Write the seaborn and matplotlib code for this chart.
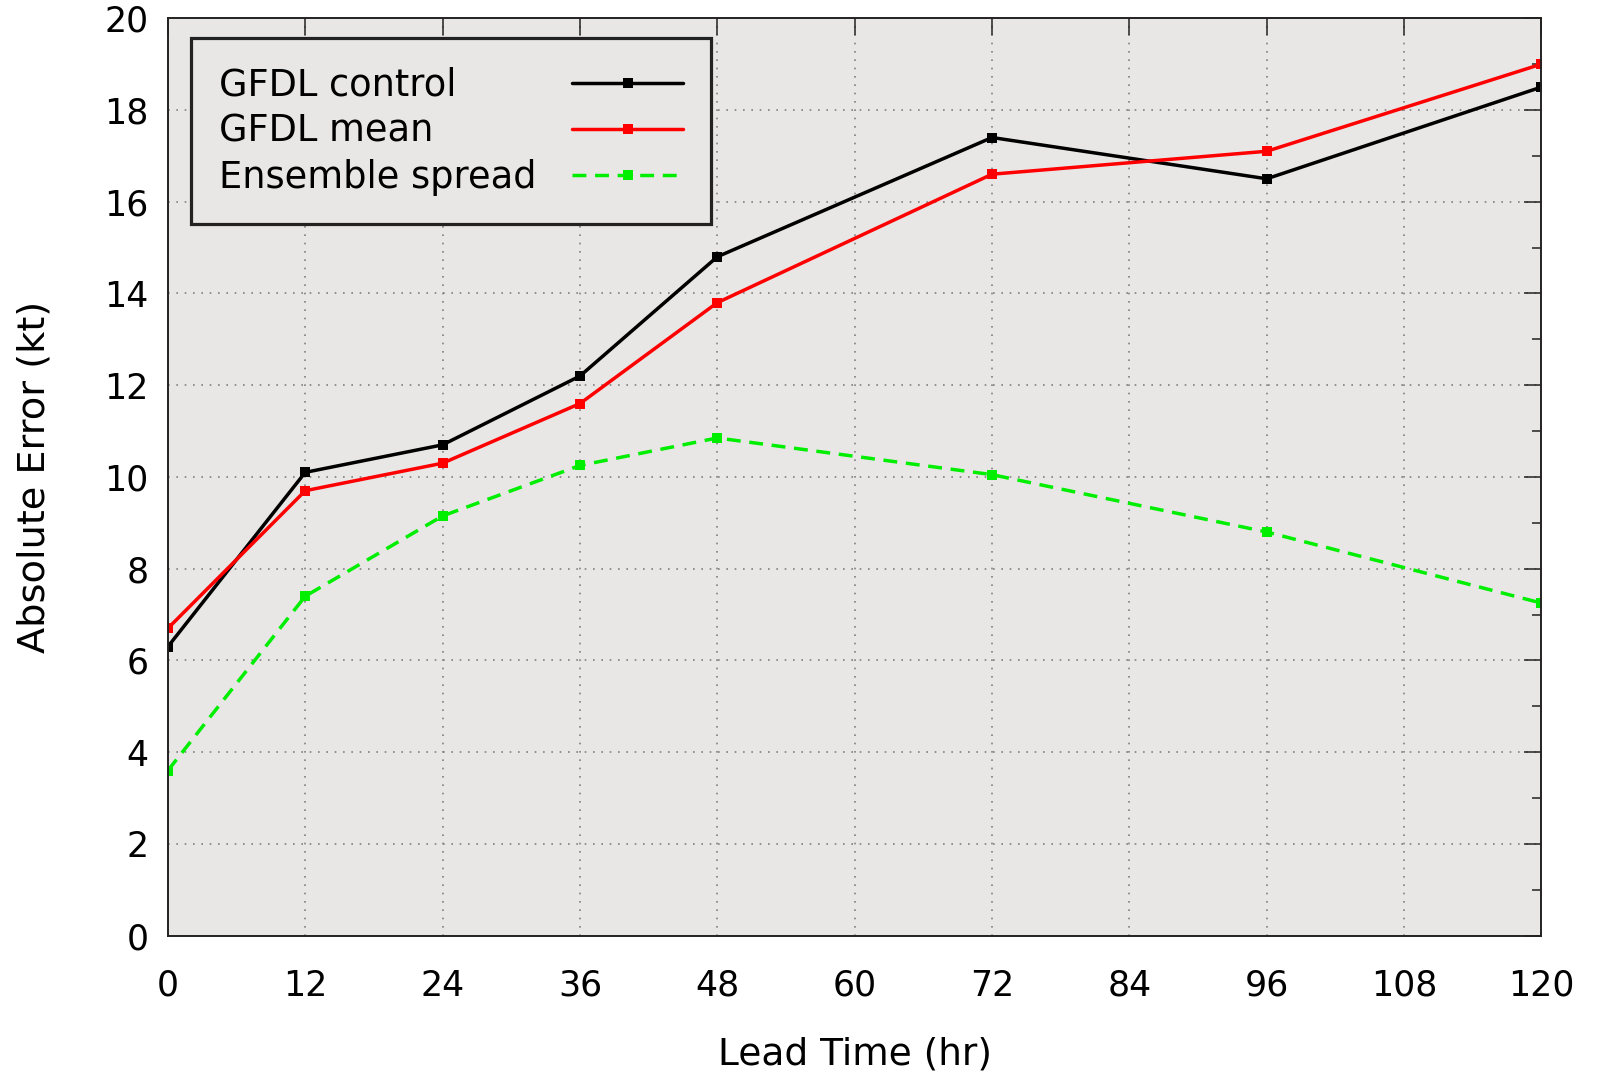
import matplotlib
matplotlib.use("Agg")
import matplotlib.pyplot as plt
import seaborn as sns
import pandas as pd
from matplotlib.ticker import MultipleLocator

lead_time = [0, 12, 24, 36, 48, 72, 96, 120]
gfdl_control = [6.3, 10.1, 10.7, 12.2, 14.8, 17.4, 16.5, 18.5]
gfdl_mean = [6.7, 9.7, 10.3, 11.6, 13.8, 16.6, 17.1, 19.0]
ensemble_spread = [3.6, 7.4, 9.15, 10.25, 10.85, 10.05, 8.8, 7.25]
series_names = ["GFDL control", "GFDL mean", "Ensemble spread"]
colors = ["#000000", "#ff0000", "#00ee00"]

sns.set_style("white")
plt.rcParams['font.family'] = ['DejaVu Sans']
plt.rcParams['text.color'] = 'black'
plt.rcParams['axes.labelcolor'] = 'black'

df = pd.DataFrame({
    "Lead": lead_time * 3,
    "Value": gfdl_control + gfdl_mean + ensemble_spread,
    "Series": sum([[n] * len(lead_time) for n in series_names], []),
})

fig = plt.figure(figsize=(15.99, 10.73), dpi=100)
ax = fig.add_axes([0.105, 0.128, 0.859, 0.855])
ax.set_facecolor("#e8e7e6")

sns.lineplot(data=df, x="Lead", y="Value", hue="Series", style="Series",
             palette=colors, dashes={"GFDL control": "", "GFDL mean": "",
                                     "Ensemble spread": (4, 2.5)},
             markers={"GFDL control": "s", "GFDL mean": "s", "Ensemble spread": "s"},
             markersize=6.5, markeredgewidth=0, linewidth=2.5, ax=ax, legend=True)

ax.set_xlim(0, 120)
ax.set_ylim(0, 20)
ax.xaxis.set_major_locator(MultipleLocator(12))
ax.yaxis.set_major_locator(MultipleLocator(2))
ax.yaxis.set_minor_locator(MultipleLocator(1))
ax.tick_params(axis="both", which="major", direction="in", length=12, width=1.1,
               top=True, right=True, labelsize=25, colors="#222222",
               labelcolor="black")
ax.tick_params(axis="both", which="minor", direction="in", length=6.5, width=1.1,
               top=True, right=True, colors="#222222")
ax.tick_params(axis="x", which="major", pad=24)
ax.tick_params(axis="y", which="major", pad=14)
ax.grid(True, which="major", linestyle=(0, (1, 4)), color="#808080", linewidth=1.2)
ax.set_axisbelow(True)
for s in ax.spines.values():
    s.set_linewidth(1.4)
    s.set_color("#222222")

ax.set_xlabel("Lead Time (hr)", fontsize=27, labelpad=24, color="black")
ax.set_ylabel("Absolute Error (kt)", fontsize=27.5, labelpad=37, color="black")

fs = 26.5
leg = ax.legend(loc="upper left", bbox_to_anchor=(0.0167, 0.978), fontsize=fs,
                markerfirst=False, handlelength=3.0, handletextpad=1.0,
                frameon=True, fancybox=False, borderpad=0.76, labelspacing=0.25,
                borderaxespad=0, labelcolor="black")
W = 464
for col in leg._legend_handle_box.get_children():
    col.align = "left"
    for item in col.get_children():
        item.mode = "expand"
        item.width = W
frame = leg.get_frame()
frame.set_edgecolor("#222222")
frame.set_linewidth(2.3)
frame.set_facecolor("#e8e7e6")
frame.set_alpha(1)

fig.savefig("out.png", dpi=100)
